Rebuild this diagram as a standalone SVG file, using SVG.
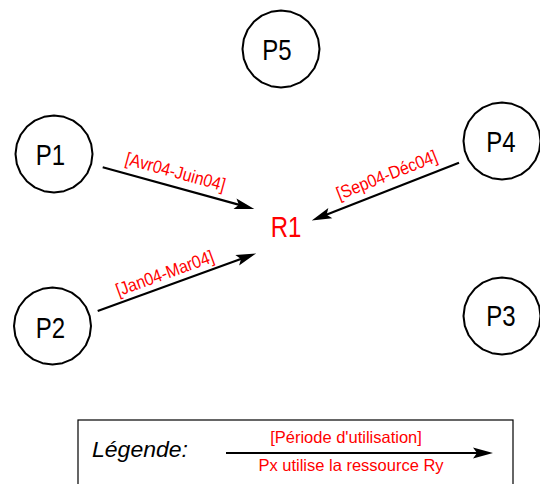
<svg xmlns="http://www.w3.org/2000/svg" xmlns:xlink="http://www.w3.org/1999/xlink" width="540" height="484" viewBox="0 0 540 484">
  <style>
    .ring { fill: #ffffff; stroke: #000000; stroke-width: 2; stroke-linejoin: round; }
    .pname { font-family: "Liberation Sans", Arial, sans-serif; font-size: 24px; fill: #000000; text-anchor: middle; }
    .res { font-family: "Liberation Sans", Arial, sans-serif; font-size: 24px; fill: #ff0000; text-anchor: middle; }
    .edge { stroke: #000000; stroke-width: 2.2; fill: none; marker-end: url(#head); }
    .period { font-family: "Liberation Sans", Arial, sans-serif; font-size: 16px; fill: #ff0000; text-anchor: middle; }
    .legend-title { font-family: "Liberation Sans", Arial, sans-serif; font-size: 22px; font-style: italic; fill: #000000; }
    .legend-text { font-family: "Liberation Sans", Arial, sans-serif; font-size: 16.5px; fill: #ff0000; text-anchor: middle; }
  </style>
  <defs>
    <!-- faceted process circle, r = 38.5 -->
    <polygon id="ring" class="ring" points="38.5,0 37.19,9.96 33.34,19.25 27.22,27.22 19.25,33.34 9.96,37.19 0,38.5 -9.96,37.19 -19.25,33.34 -27.22,27.22 -33.34,19.25 -37.19,9.96 -38.5,0 -37.19,-9.96 -33.34,-19.25 -27.22,-27.22 -19.25,-33.34 -9.96,-37.19 0,-38.5 9.96,-37.19 19.25,-33.34 27.22,-27.22 33.34,-19.25 37.19,-9.96"/>
    <!-- notched arrowhead; the line stops 6px before the tip -->
    <marker id="head" markerUnits="userSpaceOnUse" markerWidth="22" markerHeight="12" refX="14" refY="0" orient="auto" overflow="visible">
      <path d="M20,0 L0,-5.5 L4,0 L0,5.5 Z" fill="#000000"/>
    </marker>
  </defs>

  <rect width="540" height="484" fill="#ffffff"/>

  <!-- processes -->
  <g id="p5">
    <use xlink:href="#ring" x="281" y="49"/>
    <text class="pname" transform="translate(277,60) scale(1,1.2)">P5</text>
  </g>
  <g id="p1">
    <use xlink:href="#ring" x="54" y="154"/>
    <text class="pname" transform="translate(50.5,165) scale(1,1.2)">P1</text>
  </g>
  <g id="p4">
    <use xlink:href="#ring" x="502" y="141"/>
    <text class="pname" transform="translate(500.8,151.7) scale(1,1.2)">P4</text>
  </g>
  <g id="p2">
    <use xlink:href="#ring" x="52.5" y="326"/>
    <text class="pname" transform="translate(50.3,337.7) scale(1,1.2)">P2</text>
  </g>
  <g id="p3">
    <use xlink:href="#ring" x="502" y="316"/>
    <text class="pname" transform="translate(500.8,325.7) scale(1,1.2)">P3</text>
  </g>

  <!-- resource -->
  <g id="r1">
    <text class="res" transform="translate(286,236.5) scale(1,1.2)">R1</text>
  </g>

  <!-- usage connectors with their periods -->
  <g id="connectors">
    <line class="edge" x1="102.7" y1="167.3" x2="248.5" y2="207.4"/>
    <text class="period" transform="translate(173.9,177.6) rotate(15.4) scale(1,1.12)">[Avr04-Juin04]</text>

    <line class="edge" x1="97.7" y1="311" x2="250.4" y2="255.5"/>
    <text class="period" transform="translate(166.8,279) rotate(-20) scale(1,1.12)">[Jan04-Mar04]</text>

    <line class="edge" x1="459" y1="162.7" x2="317.3" y2="218.3"/>
    <text class="period" transform="translate(389,180.6) rotate(-21.4) scale(1,1.12)">[Sep04-Déc04]</text>
  </g>

  <!-- legend -->
  <g id="legend">
    <rect x="78" y="420" width="435" height="80" fill="none" stroke="#000000" stroke-width="1.2"/>
    <text class="legend-title" x="92" y="457" textLength="96" lengthAdjust="spacingAndGlyphs">Légende:</text>
    <line class="edge" x1="226" y1="453" x2="487" y2="453"/>
    <text class="legend-text" x="346" y="443">[Période d'utilisation]</text>
    <text class="legend-text" x="351" y="471">Px utilise la ressource Ry</text>
  </g>
</svg>
